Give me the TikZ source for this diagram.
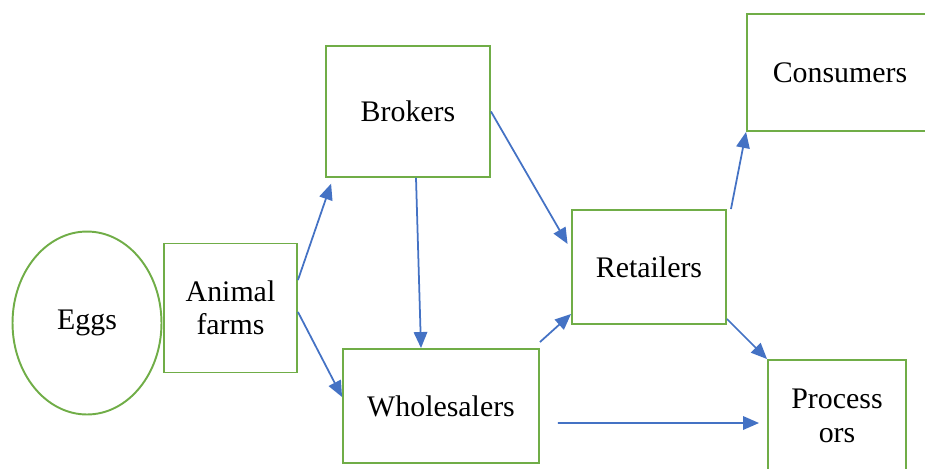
\documentclass[tikz,border=0pt]{standalone}
\usepackage{fontspec}
\setmainfont{Liberation Serif}
\usetikzlibrary{arrows.meta,shapes.geometric}

\definecolor{boxgreen}{HTML}{70AD47}
\definecolor{flowblue}{HTML}{4472C4}

\tikzset{
  stage/.style={draw=boxgreen, line width=1.1pt, align=center, inner sep=0pt},
  flow/.style={draw=flowblue, line width=1pt, -{Triangle[length=0.32cm, width=0.27cm]}}
}

\begin{document}
\begin{tikzpicture}[x=0.02cm, y=-0.02cm, font=\fontsize{17}{19}\selectfont]

\useasboundingbox (0,0) rectangle (925,468);
\clip (0,0) rectangle (925,468);

% Stages
\node[stage, ellipse, minimum width=2.98cm, minimum height=3.66cm] (eggs) at (87,323) {Eggs};
\node[stage, minimum width=2.66cm, minimum height=2.58cm] (farms) at (230.5,308) {Animal\\farms};
\node[stage, minimum width=3.28cm, minimum height=2.62cm] (brokers) at (408,111.5) {Brokers};
\node[stage, minimum width=3.92cm, minimum height=2.28cm] (wholesalers) at (441,406) {Wholesalers};
\node[stage, minimum width=3.08cm, minimum height=2.28cm] (retailers) at (649,267) {Retailers};
\node[stage, minimum width=3.72cm, minimum height=2.34cm] (consumers) at (840,72.5) {Consumers};
\node[stage, minimum width=2.76cm, minimum height=2.24cm] (processors) at (837,416) {Process\\ors};

% Flows
\draw[flow, shorten >=0.12cm] ([yshift=0.56cm]farms.east) -- ([xshift=0.16cm]brokers.south west);
\draw[flow] ([yshift=-0.08cm]farms.east) -- ([yshift=0.18cm]wholesalers.west);
\draw[flow] ([xshift=0.16cm]brokers.south) -- ([xshift=-0.4cm]wholesalers.north);
\draw[flow, shorten >=0.14cm] (brokers.east) -- ([yshift=0.34cm]retailers.west);
\draw[flow] ([yshift=0.12cm]wholesalers.north east) -- ([yshift=0.22cm]retailers.south west);
\draw[flow] ([xshift=0.08cm]retailers.north east) -- (consumers.south west);
\draw[flow] ([yshift=0.12cm]retailers.south east) -- (processors.north west);
\draw[flow, shorten >=0.16cm] ([xshift=0.36cm, yshift=-0.34cm]wholesalers.east) -- ([yshift=-0.14cm]processors.west);

\end{tikzpicture}
\end{document}
